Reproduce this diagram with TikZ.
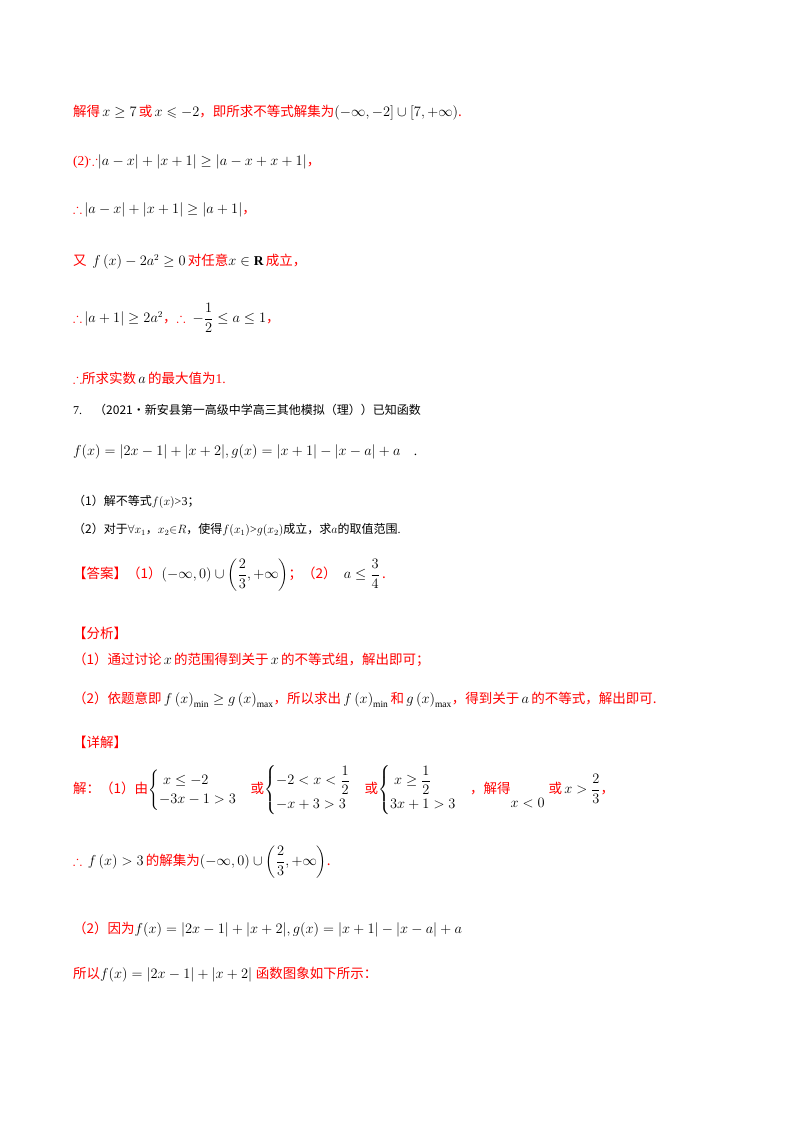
\documentclass[tikz,border=0pt]{standalone}
\usepackage{amsmath,amssymb}
\usepackage{fontspec}
\setmainfont{Liberation Serif}
\newfontfamily\cjk{Noto Sans CJK SC}
\newcommand{\zh}[1]{{\cjk\color{red}#1}}
\newcommand{\zk}[1]{{\cjk #1}}
\newcommand{\ab}[1]{\left|#1\right|}
\begin{document}
\begin{tikzpicture}[x=1pt,y=1pt,
  ln/.style={anchor=west,inner sep=0pt,font=\fontsize{13.5}{16}\selectfont},
  sm/.style={anchor=west,inner sep=0pt,font=\fontsize{12}{14}\selectfont}]
\useasboundingbox (0,0) rectangle (800,-1132);
\fill[white] (0,0) rectangle (800,-1132);
\node[ln] (l1) at (73,-113) {\zh{解得}\,$x\ge 7$\,\zh{或}\,$x\leqslant -2$\zh{，即所求不等式解集为}$\left(-\infty,-2\right]\cup\left[7,+\infty\right)$\zh{.}};
\node[ln] (l2) at (73,-162) {\textcolor{red}{(2)$\because$}$\ab{a-x}+\ab{x+1}\ge\ab{a-x+x+1}$\zh{，}};
\node[ln] (l3) at (73,-210) {\textcolor{red}{$\therefore$}\,$\ab{a-x}+\ab{x+1}\ge\ab{a+1}$\zh{，}};
\node[ln] (l4) at (73,-262) {\zh{又}\, $f\left(x\right)-2a^2\ge 0$\,\zh{对任意}$x\in\mathbf{R}$\,\zh{成立，}};
\node[ln] (l5) at (73,-318) {\textcolor{red}{$\therefore$}\,$\ab{a+1}\ge 2a^2$\zh{，}\textcolor{red}{$\therefore$}\; $-\dfrac{1}{2}\le a\le 1$\zh{，}};
\node[ln] (l6) at (73,-378) {\textcolor{red}{$\therefore$}\zh{所求实数}\,$a$\,\zh{的最大值为}\textcolor{red}{1.}};
\node[sm] (l7) at (73,-410) {7.\quad\zk{（2021·新安县第一高级中学高三其他模拟（理））已知函数}};
\node[ln] (l8) at (73,-452) {$f(x)=\lvert 2x-1\rvert+\lvert x+2\rvert,g(x)=\lvert x+1\rvert-\lvert x-a\rvert+a$\quad.};
\node[sm] (l9) at (73,-502) {\zk{（1）解不等式}$f(x)$>3\zk{；}};
\node[sm] (l10) at (73,-530) {\zk{（2）对于}$\forall x_1$\zk{，}$x_2{\in}R$\zk{，使得}$f(x_1)$>$g(x_2)$\zk{成立，求}$a$\zk{的取值范围}.};
\node[ln] (l11) at (73,-575) {\zh{【答案】（1）}$(-\infty,0)\cup\left(\dfrac{2}{3},+\infty\right)$\zh{；（2）}\; $a\le\dfrac{3}{4}$\,\zh{.}};
\node[ln] (l12) at (73,-633) {\zh{【分析】}};
\node[ln] (l13) at (73,-660) {\zh{（1）通过讨论}\,$x$\,\zh{的范围得到关于}\,$x$\,\zh{的不等式组，解出即可；}};
\node[ln] (l14) at (73,-700) {\zh{（2）依题意即}\,$f\left(x\right)_{\min}\ge g\left(x\right)_{\max}$\zh{，所以求出}\,$f\left(x\right)_{\min}$\,\zh{和}\,$g\left(x\right)_{\max}$\zh{，得到关于}\,$a$\,\zh{的不等式，解出即可.}};
\node[ln] (l15) at (73,-742) {\zh{【详解】}};
\node[ln] (l16) at (73,-790) {\zh{解：（1）由}$\begin{cases}\;x\le -2\\ -3x-1>3\end{cases}$\zh{或}$\begin{cases}-2<x<\dfrac12\\ -x+3>3\end{cases}$\zh{或}$\begin{cases}\;x\ge\dfrac12\\ 3x+1>3\end{cases}$\zh{，解得}\raisebox{-14pt}{$x<0$}\;\zh{或}\,$x>\dfrac23$\zh{，}};
\node[ln] (l17) at (73,-862) {\textcolor{red}{$\therefore$}\, $f\left(x\right)>3$\,\zh{的解集为}$\left(-\infty,0\right)\cup\left(\dfrac{2}{3},+\infty\right)$\zh{.}};
\node[ln] (l18) at (73,-930) {\zh{（2）因为}$f(x)=\lvert 2x-1\rvert+\lvert x+2\rvert,g(x)=\lvert x+1\rvert-\lvert x-a\rvert+a$};
\node[ln] (l19) at (73,-975) {\zh{所以}$f(x)=\lvert 2x-1\rvert+\lvert x+2\rvert$\;\zh{函数图象如下所示：}};
\end{tikzpicture}
\end{document}
